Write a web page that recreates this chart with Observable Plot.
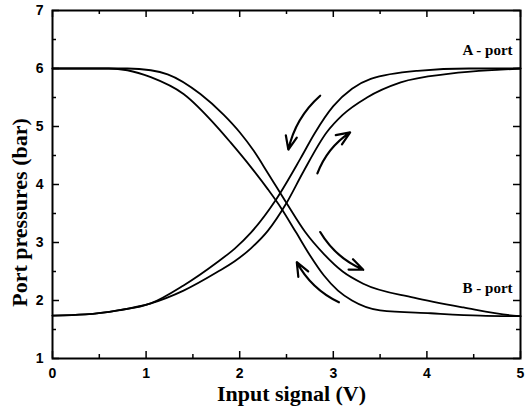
<!DOCTYPE html>
<html><head><meta charset="utf-8">
<script src="https://cdn.jsdelivr.net/npm/d3@7"></script>
<script src="https://cdn.jsdelivr.net/npm/@observablehq/plot@0.6"></script>
<style>body{margin:0;background:#fff}</style>
</head><body><div id="chart"></div>
<script>
// A-port, branch rising earlier (input decreasing)
const aLeftV = [0, 0.35, 0.7, 1.05, 1.4, 1.76, 1.95, 2.12, 2.38, 2.65, 2.8, 3.0, 3.2, 3.4, 3.9, 4.45, 5.0];
const aLeftP = [1.74, 1.76, 1.83, 1.95, 2.26, 2.66, 2.9, 3.17, 3.72, 4.45, 4.88, 5.35, 5.65, 5.82, 5.96, 6.0, 6.0];
// A-port, branch rising later (input increasing)
const aRightV = [0, 0.35, 0.7, 1.05, 1.4, 1.76, 1.95, 2.12, 2.3, 2.5, 2.68, 2.93, 3.1, 3.36, 3.72, 4.25, 4.79, 5.0];
const aRightP = [1.74, 1.76, 1.83, 1.95, 2.17, 2.49, 2.68, 2.9, 3.2, 3.68, 4.22, 4.9, 5.2, 5.5, 5.76, 5.91, 5.98, 6.0];
// B-port, branch falling later (input increasing)
const bRightV = [0, 0.6, 0.8, 1.05, 1.23, 1.58, 1.83, 2.0, 2.15, 2.3, 2.5, 2.7, 2.9, 3.1, 3.32, 3.86, 4.39, 4.92, 5.0];
const bRightP = [6.0, 6.0, 6.0, 5.97, 5.9, 5.56, 5.2, 4.9, 4.58, 4.2, 3.68, 3.18, 2.8, 2.5, 2.29, 2.05, 1.88, 1.74, 1.73];
// B-port, branch falling earlier (input decreasing)
const bLeftV = [0, 0.6, 0.8, 1.05, 1.4, 1.76, 1.9, 2.12, 2.3, 2.44, 2.6, 2.75, 2.9, 3.05, 3.2, 3.5, 4.04, 4.57, 5.0];
const bLeftP = [6.0, 6.0, 5.97, 5.85, 5.56, 4.99, 4.73, 4.3, 3.92, 3.6, 3.18, 2.78, 2.43, 2.17, 2.0, 1.83, 1.78, 1.74, 1.73];

// direction arrows (tail -> head)
const arrowTailV = [2.86, 2.83, 2.86, 3.06];
const arrowTailP = [5.53, 4.19, 3.18, 1.97];
const arrowHeadV = [2.52, 3.18, 3.32, 2.61];
const arrowHeadP = [4.6, 4.9, 2.53, 2.66];

const portLabels = ["A - port", "B - port"];
const portLabelV = [4.915, 4.915];
const portLabelP = [6.31, 2.21];

const xMajorTicks = [0, 1, 2, 3, 4, 5];
const xMinorTicks = [0.5, 1.5, 2.5, 3.5, 4.5];
const yMajorTicks = [1, 2, 3, 4, 5, 6, 7];
const yMinorTicks = [1.5, 2.5, 3.5, 4.5, 5.5, 6.5];
const xTitle = "Input signal (V)";
const yTitle = "Port pressures (bar)";

const series = [
  ["A-left", aLeftV, aLeftP], ["A-right", aRightV, aRightP],
  ["B-right", bRightV, bRightP], ["B-left", bLeftV, bLeftP]
];
const rows = series.flatMap(([name, vs, ps]) => vs.map((v, i) => ({name, v, p: ps[i]})));
const arrows = arrowTailV.map((_, i) => ({i, x1: arrowTailV[i], y1: arrowTailP[i], x2: arrowHeadV[i], y2: arrowHeadP[i]}));
const labels = portLabels.map((t, i) => ({t, v: portLabelV[i], p: portLabelP[i]}));

const W = 526, H = 410, mL = 52, mR = 6, mT = 10, mB = 52;
const pw = W - mL - mR, ph = H - mT - mB;
const serif = "Liberation Serif";
const sans = "Liberation Sans";

const chart = Plot.plot({
  width: W, height: H,
  marginLeft: mL, marginRight: mR, marginTop: mT, marginBottom: mB,
  style: {background: "#fff", color: "#000"},
  x: {domain: [0, 5]},
  y: {domain: [1, 7]},
  marks: [
    // tick marks (inward, all four sides)
    Plot.ruleX(xMajorTicks, {x: d => d, insetTop: ph - 7, strokeWidth: 1.5}),
    Plot.ruleX(xMajorTicks, {x: d => d, insetBottom: ph - 7, strokeWidth: 1.5}),
    Plot.ruleX(xMinorTicks, {x: d => d, insetTop: ph - 4, strokeWidth: 1.5}),
    Plot.ruleX(xMinorTicks, {x: d => d, insetBottom: ph - 4, strokeWidth: 1.5}),
    Plot.ruleY(yMajorTicks, {y: d => d, insetRight: pw - 7, strokeWidth: 1.5}),
    Plot.ruleY(yMajorTicks, {y: d => d, insetLeft: pw - 7, strokeWidth: 1.5}),
    Plot.ruleY(yMinorTicks, {y: d => d, insetRight: pw - 4, strokeWidth: 1.5}),
    Plot.ruleY(yMinorTicks, {y: d => d, insetLeft: pw - 4, strokeWidth: 1.5}),
    Plot.axisX({ticks: xMajorTicks, tickFormat: "d", tickSize: 0, tickPadding: 10, label: null,
      fontSize: 14, fontWeight: "bold", fontFamily: sans}),
    Plot.axisY({ticks: yMajorTicks, tickFormat: "d", tickSize: 0, tickPadding: 9, label: null,
      fontSize: 14, fontWeight: "bold", fontFamily: sans}),
    Plot.frame({strokeWidth: 2}),
    Plot.line(rows, {x: "v", y: "p", z: "name", curve: "monotone-x", stroke: "#000", strokeWidth: 1.8}),
    Plot.arrow(arrows.filter(d => d.i % 2 === 0), {x1: "x1", y1: "y1", x2: "x2", y2: "y2",
      bend: -18, headLength: 10, headAngle: 45, strokeWidth: 2.2, stroke: "#000"}),
    Plot.arrow(arrows.filter(d => d.i % 2 === 1), {x1: "x1", y1: "y1", x2: "x2", y2: "y2",
      bend: 18, headLength: 10, headAngle: 45, strokeWidth: 2.2, stroke: "#000"}),
    Plot.text(labels, {x: "v", y: "p", text: "t", textAnchor: "end",
      fontSize: 15, fontWeight: "bold", fontFamily: serif, fill: "#000"}),
    Plot.text([xTitle], {frameAnchor: "bottom", lineAnchor: "middle", textAnchor: "middle", dx: 5, dy: 35, text: d => d,
      fontSize: 22, fontWeight: "bold", fontFamily: serif, fill: "#000"}),
    Plot.text([yTitle], {frameAnchor: "left", lineAnchor: "middle", textAnchor: "middle", dx: -33, dy: 28, rotate: -90, text: d => d,
      fontSize: 22, fontWeight: "bold", fontFamily: serif, fill: "#000"})
  ]
});
document.getElementById("chart").appendChild(chart);
</script>
</body></html>
